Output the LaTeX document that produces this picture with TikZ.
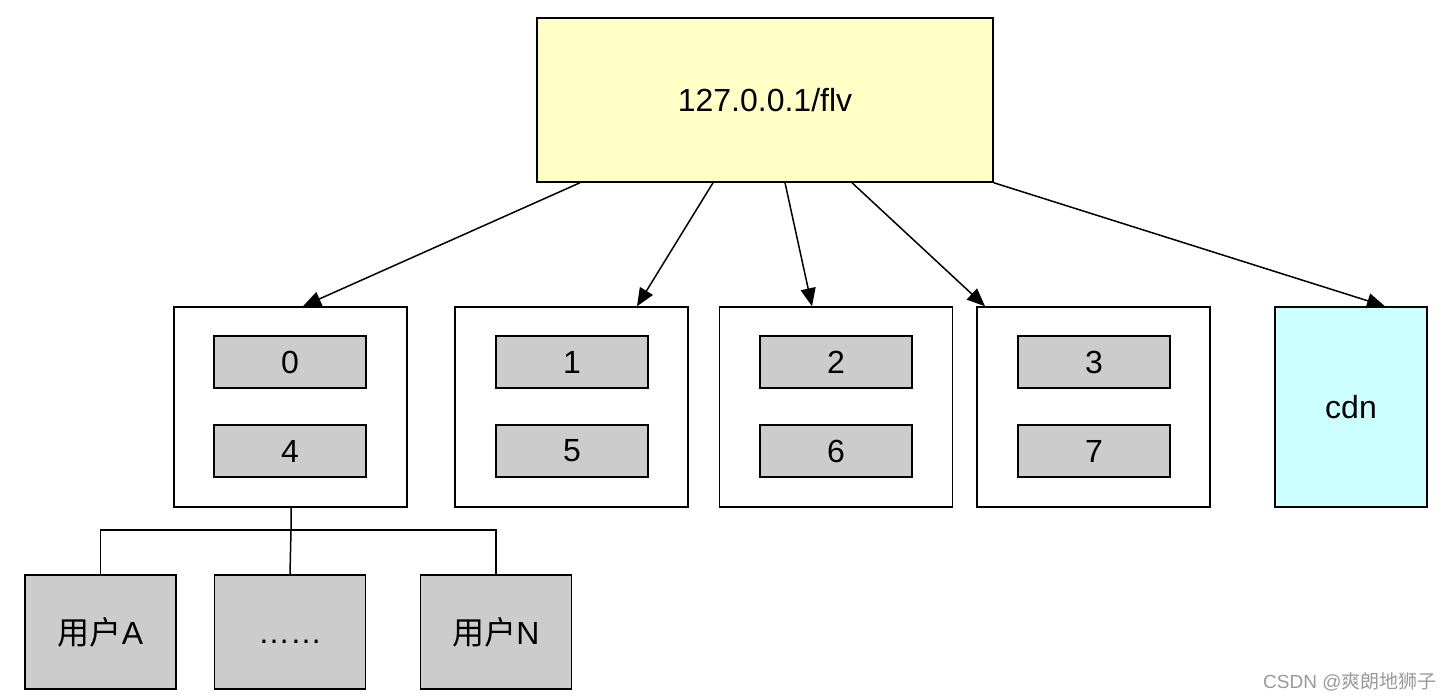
\documentclass[tikz,border=0pt]{standalone}
\usepackage{fontspec}
\setmainfont{Liberation Sans}
\newfontfamily\cjk{Noto Sans CJK SC}
\usetikzlibrary{arrows.meta}
\definecolor{topfill}{HTML}{FFFFC6}
\definecolor{cdnfill}{HTML}{CCFFFF}
\definecolor{grayfill}{HTML}{CCCCCC}
\definecolor{wm}{HTML}{9A9A9A}
\tikzset{
  base/.style={draw=black, line width=0.75pt, inner sep=0pt, font=\fontsize{16}{19}\selectfont},
  topbox/.style={base, fill=topfill, minimum width=228pt, minimum height=82pt},
  group/.style={base, fill=white, minimum width=116.5pt, minimum height=100pt},
  cdnbox/.style={base, fill=cdnfill, minimum width=76pt, minimum height=100pt},
  slot/.style={base, fill=grayfill, minimum width=76pt, minimum height=26pt},
  user/.style={base, fill=grayfill, minimum width=75.5pt, minimum height=57pt},
  arr/.style={line width=0.75pt, -{Triangle[length=9pt,width=7.5pt]}},
  link/.style={line width=0.75pt}
}
\begin{document}
\begin{tikzpicture}[x=0.5pt,y=-0.5pt]
\useasboundingbox (0,0) rectangle (1450,700);
\node[topbox] (top) at (765,100) {127.0.0.1/flv};
\node[group] (b0) at (290.5,407) {};
\node[group] (b1) at (571.5,407) {};
\node[group] (b2) at (836,407) {};
\node[group] (b3) at (1093.5,407) {};
\node[cdnbox] (cdn) at (1351,407) {cdn};
\node[slot] (s0) at (290,362) {0};
\node[slot] (s4) at (290,451) {4};
\node[slot] (s1) at (572,362) {1};
\node[slot] (s5) at (572,451) {5};
\node[slot] (s2) at (836,362) {2};
\node[slot] (s6) at (836,451) {6};
\node[slot] (s3) at (1094,362) {3};
\node[slot] (s7) at (1094,451) {7};
\node[user] (ua) at (100.5,632) {{\cjk 用户}A};
\node[user] (ud) at (290,632) {\vphantom{A}……};
\node[user] (un) at (496,632) {{\cjk 用户}N};
\draw[arr] (580,0 |- top.south) -- (303,0 |- b0.north);
\draw[arr] (713,0 |- top.south) -- (637,0 |- b1.north);
\draw[arr] (785,0 |- top.south) -- (812,0 |- b2.north);
\draw[arr] (852,0 |- top.south) -- (985,0 |- b3.north);
\draw[arr] (top.south east) -- (1385,0 |- cdn.north);
\coordinate (j) at (291,530);
\draw[link] (291,0 |- b0.south) -- (j) -- (ud.north);
\draw[link] (ua.north) -- (ua.north |- j) -- (un.north |- j) -- (un.north);
\node[anchor=east, text=wm, font=\fontsize{9.5}{11}\selectfont, inner sep=0pt] (wmk) at (1437,682) {CSDN @{\cjk 爽朗地狮子}};
\end{tikzpicture}
\end{document}
